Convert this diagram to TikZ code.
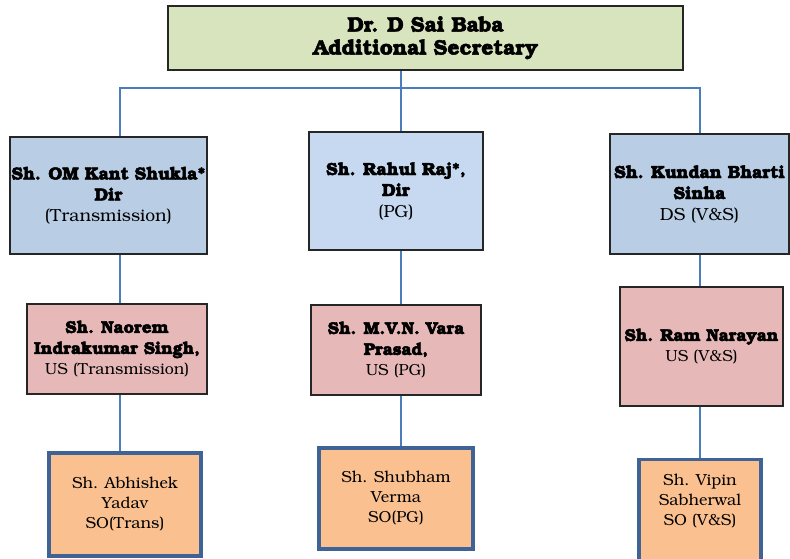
\documentclass[tikz,border=0pt]{standalone}
\usepackage[T1]{fontenc}
\usepackage{bookman}
\definecolor{headfill}{HTML}{D7E4BD}
\definecolor{dirfill}{HTML}{B9CDE5}
\definecolor{dirfilllight}{HTML}{C6D9F1}
\definecolor{usfill}{HTML}{E6B9B8}
\definecolor{sofill}{HTML}{FAC090}
\definecolor{soborder}{HTML}{3E6394}
\definecolor{wire}{HTML}{4A7EBB}
% heavier bold: fill and stroke the glyph outlines
\newcommand{\heavy}[1]{\special{pdf:literal direct 2 Tr 0.45 w}\textbf{#1}\special{pdf:literal direct 0 Tr}}
% bold name line in the under secretary boxes
\newcommand{\usname}[1]{{\fontsize{17}{21}\selectfont\heavy{#1}}}
\tikzset{
  orgbox/.style={draw=black!85, line width=1.3pt, inner sep=0pt, align=center},
  headbox/.style={orgbox, fill=headfill, font=\fontsize{21}{23}\selectfont},
  dirbox/.style={orgbox, fill=dirfill, font=\fontsize{17.5}{21}\selectfont},
  usbox/.style={orgbox, fill=usfill, font=\fontsize{16}{21}\selectfont},
  sotext/.style={font=\fontsize{16}{20}\selectfont, align=center, inner sep=0pt},
  sobox/.style={sotext, draw=soborder, line width=3.2pt, fill=sofill},
  wireline/.style={draw=wire, line width=1.2pt}
}
\begin{document}
\begin{tikzpicture}[x=1pt,y=-1pt]
\useasboundingbox (0,0) rectangle (790,558);

% head of the division
\node[headbox, minimum width=515, minimum height=64] (head) at (425.5,38)
  {\heavy{Dr. D Sai Baba}\\\heavy{Additional Secretary}};

% directors / deputy secretary
\node[dirbox, minimum width=197, minimum height=117] (dirA) at (108.5,195.5)
  {\heavy{Sh. OM Kant Shukla*}\\\heavy{Dir}\\(Transmission)};
\node[dirbox, fill=dirfilllight, minimum width=174, minimum height=118] (dirB) at (396,191)
  {\heavy{Sh. Rahul Raj*,}\\\heavy{Dir}\\(PG)};
\node[dirbox, minimum width=179, minimum height=120] (dirC) at (699.5,194)
  {\heavy{Sh. Kundan Bharti}\\\heavy{Sinha}\\DS (V\&S)};

% under secretaries
\node[usbox, minimum width=180, minimum height=90] (usA) at (117,349)
  {\usname{Sh. Naorem}\\\usname{Indrakumar Singh,}\\US (Transmission)};
\node[usbox, minimum width=170, minimum height=90] (usB) at (396,350)
  {\usname{Sh. M.V.N. Vara}\\\usname{Prasad,}\\US (PG)};
\node[usbox, minimum width=163, minimum height=119] (usC) at (701.5,346.5)
  {\usname{Sh. Ram Narayan}\\US (V\&S)};

% section officers
\node[sobox, minimum width=152, minimum height=103] (soA) at (125,504.5)
  {Sh. Abhishek\\Yadav\\SO(Trans)};
\node[sobox, minimum width=154, minimum height=101] (soB) at (396,498.5)
  {Sh. Shubham\\Verma\\SO(PG)};
\node[sobox, minimum width=122, minimum height=120, anchor=north] (soC) at (700,458) {};
\node[sotext] (soCtext) at (700,501) {Sh. Vipin\\Sabherwal\\SO (V\&S)};

% bus and drop points
\coordinate (busHead) at (401,88);
\coordinate (busA) at (120,88);
\coordinate (busC) at (700,88);
\coordinate (colA) at (120,0);
\coordinate (colB) at (401,0);
\coordinate (colC) at (700,0);

% connectors
\draw[wireline] (head.south -| busHead) -- (busHead);
\draw[wireline] (dirA.north -| busA) -- (busA) -- (busC) -- (dirC.north -| busC);
\draw[wireline] (busHead) -- (dirB.north -| busHead);
\draw[wireline] (dirA.south -| colA) -- (usA.north -| colA);
\draw[wireline] (dirB.south -| colB) -- (usB.north -| colB);
\draw[wireline] (dirC.south -| colC) -- (usC.north -| colC);
\draw[wireline] (usA.south -| colA) -- (soA.north -| colA);
\draw[wireline] (usB.south -| colB) -- (soB.north -| colB);
\draw[wireline] (usC.south -| colC) -- (soC.north -| colC);
\end{tikzpicture}
\end{document}
